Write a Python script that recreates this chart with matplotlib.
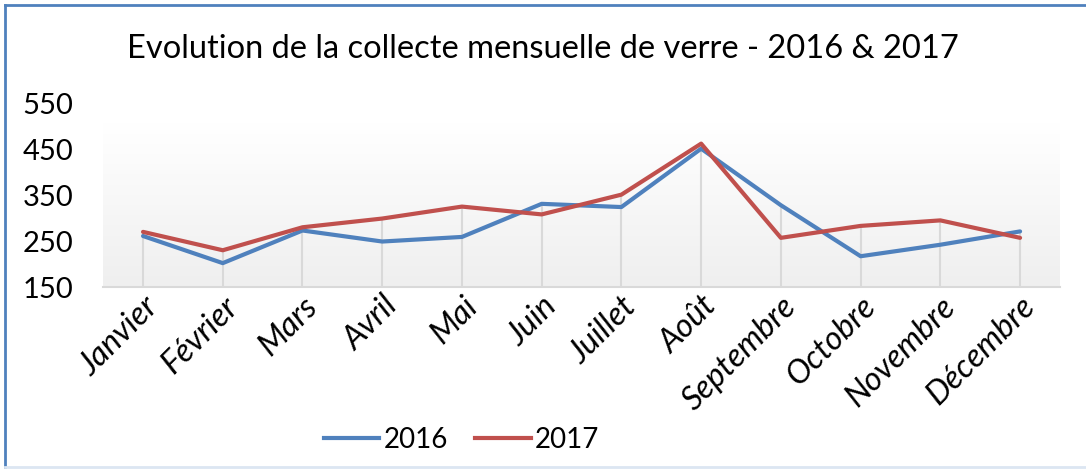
import numpy as np
import matplotlib.pyplot as plt
from matplotlib.lines import Line2D

plt.rcParams['font.family'] = ['Lato', 'DejaVu Sans']

mois = ['Janvier', 'Février', 'Mars', 'Avril', 'Mai', 'Juin', 'Juillet',
        'Août', 'Septembre', 'Octobre', 'Novembre', 'Décembre']
v2016 = [261, 202, 273, 249, 259, 331, 324, 451, 328, 217, 242, 271]
v2017 = [270, 230, 280, 299, 325, 308, 351, 462, 257, 283, 295, 257]
yticks = [150, 250, 350, 450, 550]

bleu = '#4f81bd'
rouge = '#c0504d'

fig = plt.figure(figsize=(10.86, 4.69), dpi=100)
ax = fig.add_axes([0.095, 0.388, 0.881, 0.392])

x = np.arange(len(mois))
ax.set_xlim(-0.5, len(mois) - 0.5)
ax.set_ylim(150, 550)

# fond de la zone de tracé en dégradé
grad = np.linspace(0, 1, 256).reshape(-1, 1)
ax.imshow(grad, extent=[-0.5, len(mois) - 0.5, 150, 506], aspect='auto',
          cmap=plt.matplotlib.colors.LinearSegmentedColormap.from_list(
              'g', ['#efefef', '#ffffff']), origin='lower', zorder=0)

# lignes de projection (du point le plus haut vers l'axe)
hauts = np.maximum(v2016, v2017)
ax.vlines(x, 150, hauts, color='#d9d9d9', lw=1.5, zorder=1)

ax.plot(x, v2016, color=bleu, lw=3, zorder=3, solid_capstyle='round')
ax.plot(x, v2017, color=rouge, lw=3, zorder=4, solid_capstyle='round')

for s in ['top', 'right', 'left']:
    ax.spines[s].set_visible(False)
ax.spines['bottom'].set_color('#d9d9d9')
ax.spines['bottom'].set_linewidth(1.5)

ax.set_yticks(yticks)
ax.set_yticklabels([str(v) for v in yticks], fontsize=21)
ax.tick_params(axis='y', length=0, pad=58)
for lab in ax.get_yticklabels():
    lab.set_horizontalalignment('left')
ax.set_xticks(x)
ax.set_xticklabels(mois, fontsize=23.5, style='italic', rotation=45,
                   ha='right', va='top', rotation_mode='anchor')
ax.tick_params(axis='x', length=0, pad=3)

fig.text(0.5, 0.895, 'Evolution de la collecte mensuelle de verre - 2016 & 2017',
         ha='center', va='center', fontsize=23.5)

handles = [Line2D([], [], color=bleu, lw=3), Line2D([], [], color=rouge, lw=3)]
fig.legend(handles, ['2016', '2017'], loc='center',
           bbox_to_anchor=(0.425, 0.062), ncol=2, frameon=False, fontsize=20,
           handlelength=2.0, handletextpad=0.15, columnspacing=1.0)

# cadre du graphique
fig.add_artist(Line2D([0.005, 0.005], [0.004, 0.99], color=bleu, lw=2,
                      transform=fig.transFigure))
fig.add_artist(Line2D([0.005, 1.0], [0.99, 0.99], color=bleu, lw=2,
                      transform=fig.transFigure))
fig.add_artist(Line2D([0.005, 1.0], [0.004, 0.004], color='#dce6f2', lw=2,
                      transform=fig.transFigure))

fig.savefig('out.png', dpi=100)
